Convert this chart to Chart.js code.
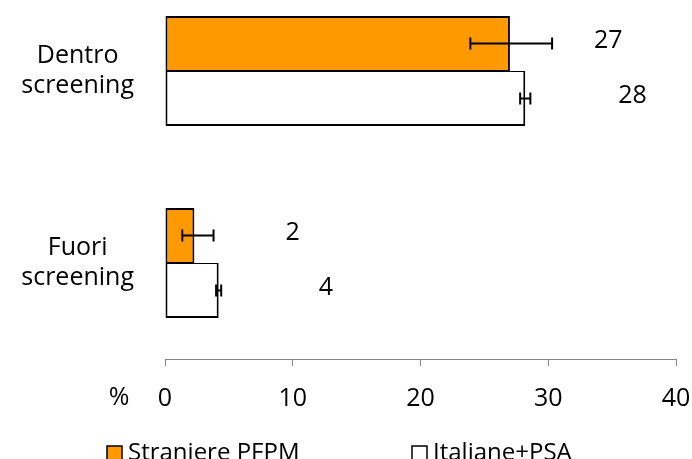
<!DOCTYPE html>
<html>
<head>
<meta charset="utf-8">
<script src="https://cdn.jsdelivr.net/npm/chart.js@4"></script>
<style>
    html, body { margin: 0; padding: 0; background: #fff; overflow: hidden; }
    #wrap { position: absolute; left: 0; top: -25px; width: 692px; height: 500px; }
</style>
</head>
<body>
<div id="wrap"><canvas id="chart"></canvas></div>
<script>
// Data
const categories = [['Dentro', 'screening'], ['Fuori', 'screening']];
const seriesNames = ['Straniere PFPM', 'Italiane+PSA'];
const straniere = [27.0, 2.3];
const straniereLow = [23.9, 1.35];
const straniereHigh = [30.3, 3.8];
const italiane = [28.2, 4.2];
const italianeLow = [27.8, 4.0];
const italianeHigh = [28.6, 4.4];
const xTicks = [0, 10, 20, 30, 40];

const FONT = "'Open Sans', sans-serif";
const errors = [
    { low: straniereLow, high: straniereHigh },
    { low: italianeLow, high: italianeHigh }
];
// how far right of the bar end each series puts its value label (axis units)
const labelShift = [7.7, 8.4];

// Error bars drawn over the bars
const errorBarsPlugin = {
    id: 'errorBars',
    afterDatasetsDraw(chart) {
        const ctx = chart.ctx;
        const xs = chart.scales.x;
        ctx.save();
        ctx.strokeStyle = '#000';
        ctx.lineWidth = 2;
        chart.data.datasets.forEach(function(ds, i) {
            const meta = chart.getDatasetMeta(i);
            meta.data.forEach(function(bar, j) {
                const x1 = xs.getPixelForValue(errors[i].low[j]);
                const x2 = xs.getPixelForValue(errors[i].high[j]);
                const y = bar.y;
                ctx.beginPath();
                ctx.moveTo(x1, y); ctx.lineTo(x2, y);
                ctx.moveTo(x1, y - 6); ctx.lineTo(x1, y + 6);
                ctx.moveTo(x2, y - 6); ctx.lineTo(x2, y + 6);
                ctx.stroke();
            });
        });
        ctx.restore();
    }
};

// Value labels, "%" unit and legend
const textPlugin = {
    id: 'texts',
    afterDraw(chart) {
        const ctx = chart.ctx;
        const xs = chart.scales.x;
        ctx.save();
        ctx.fillStyle = '#000';
        ctx.font = '25px ' + FONT;
        ctx.textAlign = 'center';
        ctx.textBaseline = 'middle';
        chart.data.datasets.forEach(function(ds, i) {
            const meta = chart.getDatasetMeta(i);
            meta.data.forEach(function(bar, j) {
                const v = ds.data[j];
                ctx.fillText(String(Math.round(v)), xs.getPixelForValue(v + labelShift[i]), bar.y - 3);
            });
        });

        // "%" next to the 0 tick
        const tickY = xs.top + 7 + 17 + 15;
        ctx.fillText('%', xs.left - 46, tickY);

        // legend
        ctx.font = '24px ' + FONT;
        ctx.textAlign = 'left';
        ctx.textBaseline = 'alphabetic';
        const legendX = [107, 412];
        const boxTop = 471;
        chart.data.datasets.forEach(function(ds, i) {
            ctx.fillStyle = ds.backgroundColor;
            ctx.fillRect(legendX[i], boxTop, 15, 15);
            ctx.strokeStyle = '#000';
            ctx.lineWidth = 1.5;
            ctx.strokeRect(legendX[i], boxTop, 15, 15);
            ctx.fillStyle = '#000';
            ctx.fillText(ds.label, legendX[i] + 21, boxTop + 14);
        });
        ctx.restore();
    }
};

const ctx = document.getElementById('chart').getContext('2d');
new Chart(ctx, {
    type: 'bar',
    data: {
        labels: categories,
        datasets: [
            {
                label: seriesNames[0],
                data: straniere,
                backgroundColor: '#FF9900',
                borderColor: '#000',
                borderWidth: { top: 2, right: 2, bottom: 1, left: 2 },
                borderSkipped: false
            },
            {
                label: seriesNames[1],
                data: italiane,
                backgroundColor: '#FFFFFF',
                borderColor: '#000',
                borderWidth: { top: 1, right: 2, bottom: 2, left: 2 },
                borderSkipped: false
            }
        ]
    },
    options: {
        indexAxis: 'y',
        responsive: true,
        maintainAspectRatio: false,
        animation: false,
        categoryPercentage: 0.573,
        barPercentage: 1,
        layout: { padding: { left: 0, top: 0, right: 16, bottom: 0 } },
        plugins: {
            legend: { display: false },
            tooltip: { enabled: false }
        },
        scales: {
            x: {
                min: xTicks[0],
                max: xTicks[xTicks.length - 1],
                afterBuildTicks: function(scale) {
                    scale.ticks = xTicks.map(v => ({ value: v }));
                },
                afterFit: function(scale) {
                    scale.height = 116;
                    scale.paddingLeft = 0;
                    scale.paddingRight = 0;
                },
                grid: {
                    drawOnChartArea: false,
                    drawTicks: true,
                    tickLength: 7,
                    color: '#868686'
                },
                border: { display: true, color: '#868686', width: 1 },
                ticks: {
                    padding: 18,
                    color: '#000',
                    font: { family: FONT, size: 25 }
                }
            },
            y: {
                afterFit: function(scale) {
                    scale.width = 165;
                    scale.paddingTop = 0;
                    scale.paddingBottom = 0;
                },
                grid: { display: false, drawTicks: false },
                border: { display: false },
                ticks: {
                    crossAlign: 'center',
                    padding: 31,
                    color: '#000',
                    font: { family: FONT, size: 25 }
                }
            }
        }
    },
    plugins: [errorBarsPlugin, textPlugin]
});
</script>
</body>
</html>
